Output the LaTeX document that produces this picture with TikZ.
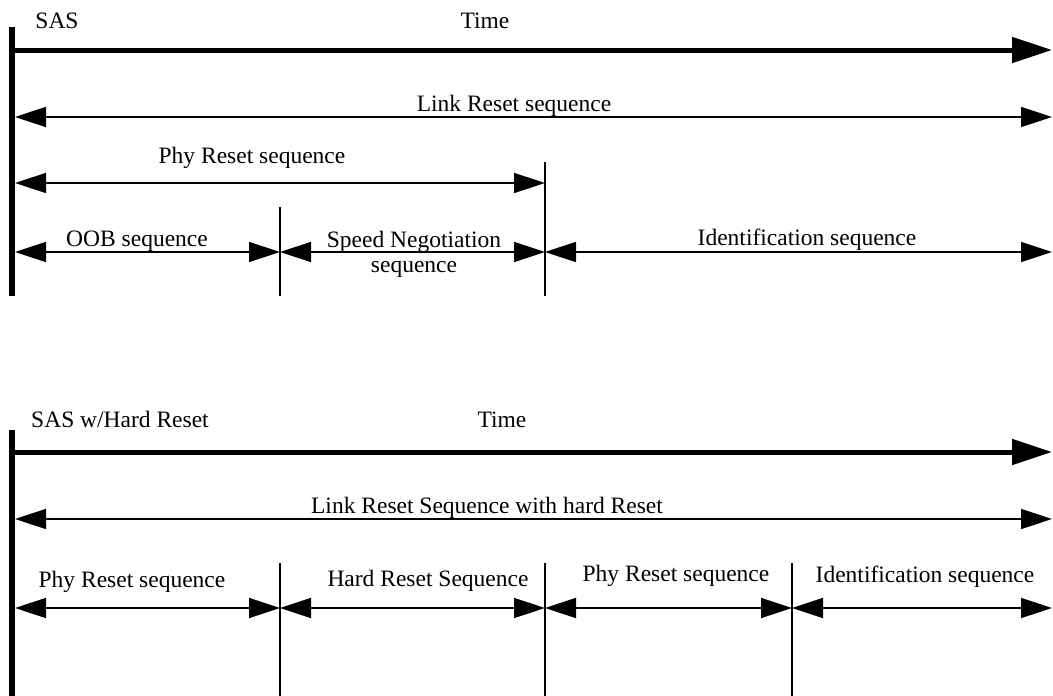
\documentclass[tikz,border=0pt]{standalone}
\usepackage{fontspec}
\setmainfont{Liberation Serif}
\usetikzlibrary{arrows.meta}

\begin{document}
\begin{tikzpicture}[x=1pt, y=-1pt,
    lbl/.style={font=\fontsize{23.5}{25}\selectfont, inner sep=0pt, anchor=base},
    axis/.style={line width=6pt},
    timeline/.style={-{Triangle[length=40pt, width=25pt]}, line width=5pt},
    span/.style={{Triangle[length=31pt, width=20pt]}-{Triangle[length=31pt, width=20pt]}, line width=1.5pt},
    divider/.style={line width=1.6pt}
]
    \useasboundingbox (0,0) rectangle (1053,696);

    % SAS
    \coordinate (a0) at (12,27);
    \coordinate (a1) at (12,296);
    \draw[axis] (a0) -- (a1);
    \coordinate (ts) at (12,50);
    \coordinate (te) at (1052,50);
    \draw[timeline] (ts) -- (te);
    \node[lbl] (sas) at (57,28) {SAS};
    \node[lbl] (time) at (485,28) {Time};

    \coordinate (ls) at (15,117);
    \coordinate (le) at (1052,117);
    \draw[span] (ls) -- (le);
    \node[lbl] (link) at (514,111) {Link Reset sequence};

    \coordinate (ps) at (15,183);
    \coordinate (pe) at (545,183);
    \draw[span] (ps) -- (pe);
    \node[lbl] (phy) at (252,163) {Phy Reset sequence};

    \coordinate (d1t) at (280,207);
    \coordinate (d1b) at (280,296);
    \coordinate (d2t) at (545,162);
    \coordinate (d2b) at (545,296);
    \draw[divider] (d1t) -- (d1b);
    \draw[divider] (d2t) -- (d2b);

    \coordinate (r0) at (15,252);
    \coordinate (r1) at (280,252);
    \coordinate (r2) at (545,252);
    \coordinate (r3) at (1052,252);
    \draw[span] (r0) -- (r1);
    \draw[span] (r1) -- (r2);
    \draw[span] (r2) -- (r3);
    \node[lbl] (oob) at (137,246) {OOB sequence};
    \node[lbl, anchor=center, align=center] (speed) at (414,254) {Speed Negotiation\\sequence};
    \node[lbl] (ident) at (807,245) {Identification sequence};

    % SAS w/Hard Reset
    \coordinate (b0) at (12,430);
    \coordinate (b1) at (12,700);
    \draw[axis] (b0) -- (b1);
    \coordinate (hts) at (12,452);
    \coordinate (hte) at (1052,452);
    \draw[timeline] (hts) -- (hte);
    \node[lbl] (hsas) at (120,427) {SAS w/Hard Reset};
    \node[lbl] (htime) at (502,427) {Time};

    \coordinate (hls) at (15,519);
    \coordinate (hle) at (1052,519);
    \draw[span] (hls) -- (hle);
    \node[lbl] (hlink) at (487,513) {Link Reset Sequence with hard Reset};

    \foreach \x/\n in {280/e1, 545/e2, 792/e3} {
        \coordinate (\n t) at (\x,563);
        \coordinate (\n b) at (\x,700);
        \draw[divider] (\n t) -- (\n b);
    }

    \coordinate (s0) at (15,608);
    \coordinate (s1) at (280,608);
    \coordinate (s2) at (545,608);
    \coordinate (s3) at (792,608);
    \coordinate (s4) at (1052,608);
    \draw[span] (s0) -- (s1);
    \draw[span] (s1) -- (s2);
    \draw[span] (s2) -- (s3);
    \draw[span] (s3) -- (s4);
    \node[lbl] (hphy) at (132,587) {Phy Reset sequence};
    \node[lbl] (hard) at (428,586) {Hard Reset Sequence};
    \node[lbl] (hphyb) at (676,581) {Phy Reset sequence};
    \node[lbl] (hident) at (925,582) {Identification sequence};
\end{tikzpicture}
\end{document}
